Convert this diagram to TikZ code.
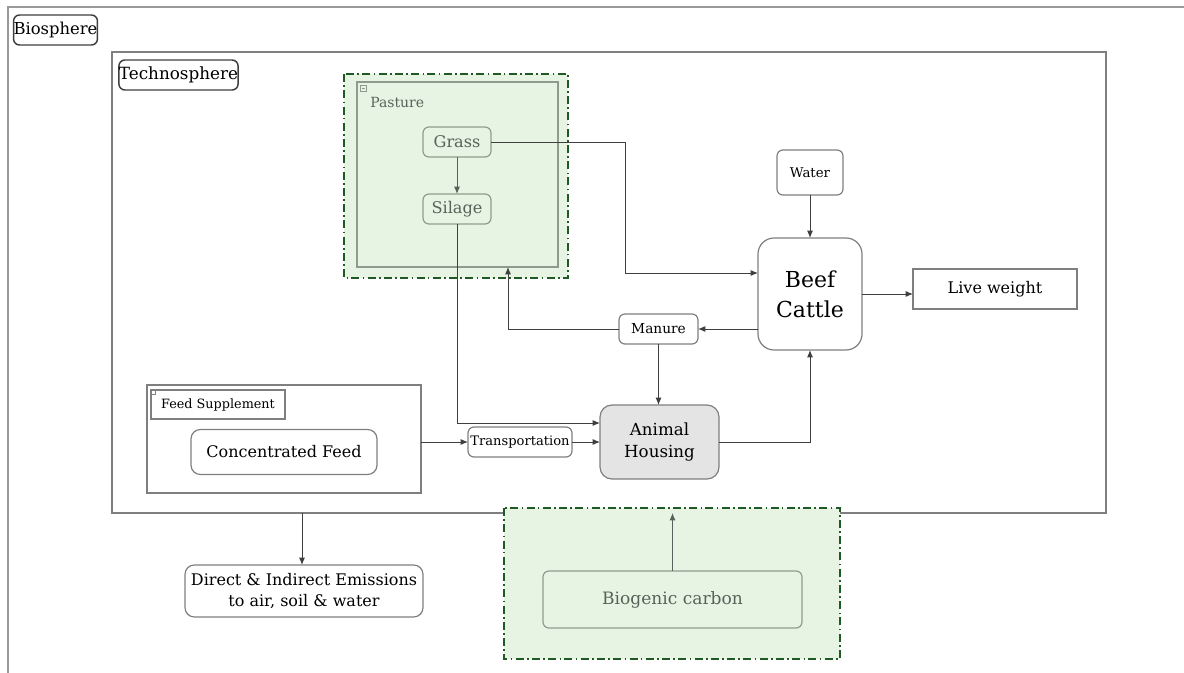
\documentclass[tikz,border=0pt]{standalone}
\usepackage{fontspec}
\setmainfont{DejaVu Serif}
\usetikzlibrary{arrows.meta}
\definecolor{gline}{HTML}{7F7F7F}
\definecolor{aline}{HTML}{3F3F3F}
\definecolor{dgreen}{HTML}{1F5A24}
\definecolor{lgreen}{HTML}{E8F4E3}
\definecolor{gtext}{HTML}{55645A}
\definecolor{gbord}{HTML}{8E9C90}
\definecolor{hgrey}{HTML}{E4E4E4}
\tikzset{
  sz/.style 2 args={minimum width=#1*0.75pt, minimum height=#2*0.75pt, inner sep=0pt, outer sep=0pt},
  rbox/.style={draw=gline, line width=0.9pt, rounded corners=4.5pt, align=center},
  sbox/.style={draw=gline, line width=0.9pt, align=center},
  gbox/.style={draw=gbord, line width=0.9pt, rounded corners=4.5pt, align=center, text=gtext},
  arr/.style={draw=aline, line width=0.7pt, -{Latex[length=5.5pt,width=4.5pt]}},
  garr/.style={draw=gtext, line width=0.7pt, -{Latex[length=5.5pt,width=4.5pt]}},
  dashzone/.style={draw=dgreen, fill=lgreen, line width=1.4pt, dash pattern=on 6pt off 2.5pt on 1.2pt off 2.5pt},
}
\begin{document}
\begin{tikzpicture}[x=0.75pt,y=-0.75pt]
\useasboundingbox (0,0) rectangle (1184,673);
% biosphere frame
\draw[draw=gline!80, line width=1.5pt] (1184,7) -- (8,7) -- (8,673);
\node[rbox, draw=aline, line width=1.1pt, sz={83}{30}, font=\fontsize{12.3}{15}\selectfont] (bio) at (55.5,30) {Biosphere};
% technosphere
\node[sbox, sz={994}{461}] (tech) at (609,282.5) {};
\node[rbox, draw=aline, line width=1.1pt, sz={119}{30}, font=\fontsize{12.6}{15}\selectfont] (techlbl) at (178.5,75) {Technosphere};
% pasture zone
\draw[dashzone] (344,74) rectangle (568,278);
\node[draw=gbord, line width=0.9pt, sz={201}{185}] (pasture) at (457.5,174.5) {};
\draw[draw=gbord, line width=0.5pt] (360,85) rectangle (366,91);
\draw[draw=gbord, line width=0.5pt] (361.5,88) -- (364.5,88);
\node[anchor=west, text=gtext, font=\fontsize{10.5}{13}\selectfont, inner sep=0pt] (pastlbl) at (370,102) {Pasture};
\node[gbox, sz={68}{30}, font=\fontsize{12.1}{15}\selectfont] (grass) at (457,142) {Grass};
\node[gbox, sz={68}{30}, font=\fontsize{12.1}{15}\selectfont] (silage) at (457,209) {Silage};
% biogenic zone
\draw[dashzone] (504,508) rectangle (840,659);
\node[gbox, sz={259}{57}, font=\fontsize{12.8}{16}\selectfont] (biog) at (672.5,599.5) {Biogenic carbon};
% main nodes
\node[rbox, sz={66}{45}, font=\fontsize{10}{12}\selectfont] (water) at (810,172.5) {Water};
\node[rbox, rounded corners=12pt, sz={104}{112}, font=\fontsize{16.5}{22.5}\selectfont] (beef) at (810,294) {Beef\\Cattle};
\node[sbox, sz={164}{40}, font=\fontsize{12}{15}\selectfont] (live) at (995,289) {Live weight};
\node[rbox, sz={79}{30}, font=\fontsize{10.3}{12}\selectfont] (manure) at (658.5,329) {Manure};
\node[rbox, rounded corners=9pt, fill=hgrey, sz={119}{74}, font=\fontsize{12.5}{16.5}\selectfont] (housing) at (659.5,442) {Animal\\Housing};
\node[sbox, sz={274}{108}] (feedsup) at (284,439) {};
\node[sbox, sz={134}{29}, font=\fontsize{9.6}{12}\selectfont] (feedlbl) at (218,404.5) {Feed Supplement};
\draw[draw=gline, line width=0.5pt] (151,390) rectangle (155,394);
\node[rbox, rounded corners=7pt, sz={186}{45}, font=\fontsize{12}{15}\selectfont] (conc) at (284,452) {Concentrated Feed};
\node[rbox, sz={104}{30}, font=\fontsize{9.8}{12}\selectfont] (trans) at (520,442) {Transportation};
\node[rbox, rounded corners=7pt, sz={238}{52}, font=\fontsize{12}{15.8}\selectfont] (emis) at (304,591) {Direct \& Indirect Emissions\\to air, soil \& water};
% connectors
\draw[garr] (grass) -- (silage);
\draw[arr] (grass.east) -| (625,273) -- (beef.west |- 625,273);
\draw[arr] (silage.south) -- (457,423) -- (housing.west |- 457,423);
\draw[arr] (water) -- (beef);
\draw[arr] (beef.west |- manure.east) -- (manure.east);
\draw[arr] (manure.west) -| (pasture.south -| 508,0);
\draw[arr] (manure.south) -- (manure.south |- housing.north);
\draw[arr] (beef.east) -- (live.west |- beef.east);
\draw[arr] (housing.east) -| (beef.south);
\draw[arr] (trans.west -| feedsup.east) -- (trans.west);
\draw[arr] (trans.east) -- (housing.west |- trans.east);
\draw[arr] (tech.south -| 302,0) -- (emis.north -| 302,0);
\draw[garr] (biog.north) -- (biog.north |- tech.south);
\end{tikzpicture}
\end{document}
